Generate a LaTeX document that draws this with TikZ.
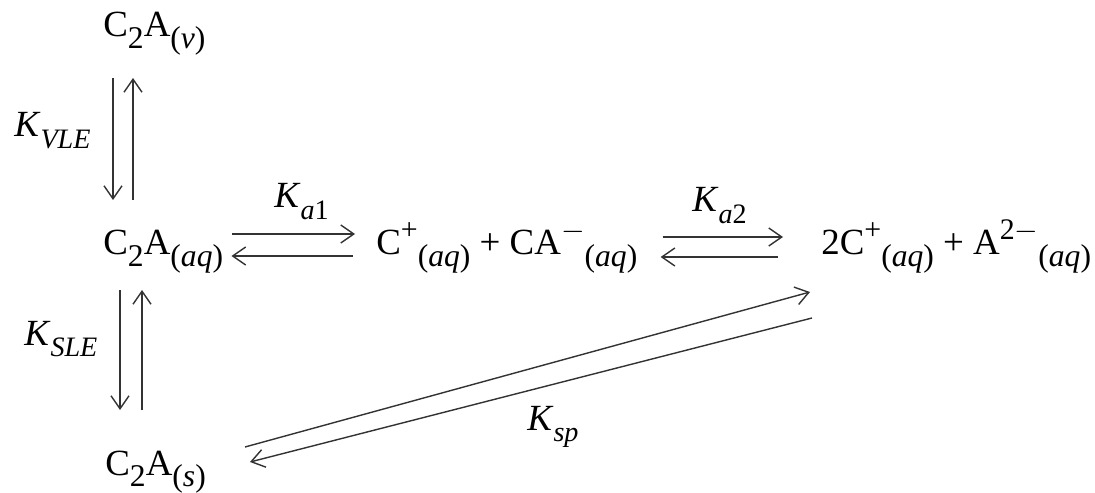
\documentclass[tikz,border=0pt]{standalone}
\usepackage{fontspec}
\setmainfont{Liberation Serif}
\usetikzlibrary{arrows.meta,calc}
\tikzset{
  species/.style={anchor=base west,inner sep=0pt,font=\fontsize{21}{25}\selectfont},
  konst/.style={anchor=base west,inner sep=0pt,font=\fontsize{21}{25}\selectfont},
  eqarr/.style={-{Straight Barb[length=2.6mm,width=3.6mm]},line width=0.8pt,black!80}
}
\newcommand{\lo}[1]{\raisebox{-0.3em}{\fontsize{18}{18}\selectfont #1}}
\newcommand{\klo}[1]{\raisebox{-0.3em}{\fontsize{16}{16}\selectfont\itshape #1}}
\newcommand{\hi}[1]{\raisebox{0.42em}{\fontsize{17}{17}\selectfont #1}}
\newcommand{\aq}{\lo{(\textit{aq})}}

\begin{document}
\begin{tikzpicture}[x=0.02cm,y=-0.02cm]
  \useasboundingbox (0,0) rectangle (1095,493);
  % species
  \node[species] (vap) at (103,37) {C\lo{2}A\lo{(\textit{v})}};
  \node[species] (acid) at (103,255) {C\lo{2}A\aq};
  \node[species] (ion1) at (376,255) {C\hi{+}\aq{} + CA\hi{$-$}\aq};
  \node[species] (ion2) at (821,255) {2C\hi{+}\aq{} + A\hi{2$-$}\aq};
  \node[species] (solid) at (105,475) {C\lo{2}A\lo{(\textit{s})}};
  % constants
  \node[konst] (kvle) at (14,137) {\textit{K}\klo{VLE}};
  \node[konst] (ksle) at (24,345) {\textit{K}\klo{SLE}};
  \node[konst] (ka1) at (274,208) {\textit{K}\klo{a\upshape 1}};
  \node[konst] (ka2) at (692,212) {\textit{K}\klo{a\upshape 2}};
  \node[konst] (ksp) at (527,430) {\textit{K}\klo{sp}};
  % vapour-liquid
  \draw[eqarr] ($(vap.base west)+(10,41)$) -- ($(acid.base west)+(10,-55)$);
  \draw[eqarr] ($(acid.base west)+(30,-55)$) -- ($(vap.base west)+(30,41)$);
  % solid-liquid
  \draw[eqarr] ($(acid.base west)+(17,35)$) -- ($(solid.base west)+(15,-65)$);
  \draw[eqarr] ($(solid.base west)+(37,-65)$) -- ($(acid.base west)+(39,35)$);
  % first dissociation
  \draw[eqarr] ($(acid.base east)+(9,-21)$) -- ($(ion1.base west)+(-21,-21)$);
  \draw[eqarr] ($(ion1.base west)+(-23,1)$) -- ($(acid.base east)+(8,1)$);
  % second dissociation
  \draw[eqarr] ($(ion1.base east)+(25,-18)$) -- ($(ion2.base west)+(-38,-18)$);
  \draw[eqarr] ($(ion2.base west)+(-43,2)$) -- ($(ion1.base east)+(23,2)$);
  % precipitation
  \draw[eqarr] ($(solid.base west)+(140,-28)$) -- ($(ion2.base west)+(-11,37)$);
  \draw[eqarr] ($(ion2.base west)+(-9,63)$) -- ($(solid.base west)+(145,-13)$);
\end{tikzpicture}
\end{document}
